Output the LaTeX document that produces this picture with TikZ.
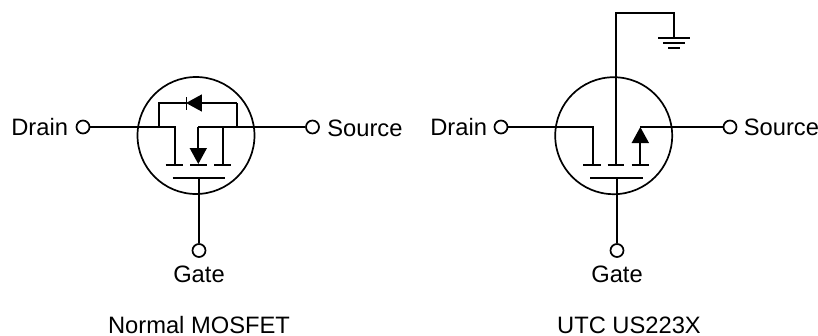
\documentclass[tikz,border=0pt]{standalone}
\usepackage{fontspec}
\setmainfont{Liberation Sans}
\usetikzlibrary{arrows.meta}
\tikzset{
  terminal/.style={shape=circle,draw,inner sep=0pt,minimum size=0.26cm,line width=0.034cm},
  body/.style={shape=circle,draw,inner sep=0pt,minimum size=2.34cm,line width=0.034cm},
  label/.style={inner sep=0pt,font=\fontsize{13.5}{16}\selectfont},
  wire/.style={line width=0.034cm},
  tip/.style={wire,-{Triangle[length=0.32cm,width=0.34cm]},shorten >=0pt}
}
\begin{document}
\begin{tikzpicture}[x=0.02cm,y=-0.02cm]
    \useasboundingbox (0,0) rectangle (818,335);
    % normal mosfet
    \node[body] (n) at (196,135.5) {};
    \node[terminal] (nd) at (83,127) {};
    \node[terminal] (ns) at (312.5,127) {};
    \node[terminal] (ng) at (199,250.5) {};
    \node[label,anchor=west] (ndl) at (11,127) {Drain};
    \node[label,anchor=west] (nsl) at (327,128) {Source};
    \node[label] (ngl) at (199,274) {Gate};
    \node[label,anchor=base] (ncap) at (199,333) {Normal MOSFET};
    \coordinate (na) at (175,127);
    \coordinate (nb) at (175,165);
    \coordinate (nc) at (198.3,127);
    \coordinate (ne) at (198.3,164);
    \coordinate (nf) at (222.7,127);
    \coordinate (nh) at (222.7,165);
    \coordinate (ni) at (159,127);
    \coordinate (nj) at (159,103);
    \coordinate (nk) at (237.3,127);
    \coordinate (nl) at (237.3,103);
    \coordinate (nm) at (186,103);
    \coordinate (no) at (199,178.3);
    \draw[wire] (nd) -- (na) -- (nb);
    \draw[wire] (ns) -- (nc);
    \draw[tip] (nc) -- (ne);
    \draw[wire] (nf) -- (nh);
    \draw[wire] (ni) -- (nj) -- (nm);
    \draw[wire] (nk) -- (nl);
    \draw[tip] (nl) -- (nm);
    \draw[line width=0.02cm] (186,97) -- (186,109.5);
    \draw[wire] (ng) -- (no);
    \draw[wire] (165.7,165) -- (182.7,165);
    \draw[wire] (190,165) -- (206.7,165);
    \draw[wire] (214,165) -- (230.7,165);
    \draw[wire] (172.7,178.3) -- (225,178.3);
    % us223x
    \node[body] (u) at (613.7,135.7) {};
    \node[terminal] (ud) at (501,127) {};
    \node[terminal] (us) at (730,127) {};
    \node[terminal] (ug) at (617,250.5) {};
    \node[label,anchor=west] (udl) at (430,127) {Drain};
    \node[label,anchor=west] (usl) at (743.5,127) {Source};
    \node[label] (ugl) at (617,274) {Gate};
    \node[label,anchor=base] (ucap) at (629,333) {UTC US223X};
    \coordinate (ua) at (592.7,127);
    \coordinate (ub) at (592.7,165);
    \coordinate (uc) at (640.3,127);
    \coordinate (ue) at (640.3,165);
    \coordinate (uf) at (615.7,165);
    \coordinate (uh) at (615.7,13);
    \coordinate (ui) at (674,13);
    \coordinate (uj) at (674,38);
    \coordinate (uo) at (617,178.3);
    \draw[wire] (ud) -- (ua) -- (ub);
    \draw[wire] (us) -- (uc);
    \draw[tip] (ue) -- (uc);
    \draw[wire] (uf) -- (uh) -- (ui) -- (uj);
    \draw[wire] (ug) -- (uo);
    \draw[wire] (583.3,165) -- (600.7,165);
    \draw[wire] (607.7,165) -- (624.3,165);
    \draw[wire] (631.7,165) -- (648.7,165);
    \draw[wire] (590,178.3) -- (643.3,178.3);
    \draw[wire] (658.3,38) -- (690,38);
    \draw[wire] (663.3,43) -- (685,43);
    \draw[wire] (668.3,48) -- (680,48);
\end{tikzpicture}
\end{document}
